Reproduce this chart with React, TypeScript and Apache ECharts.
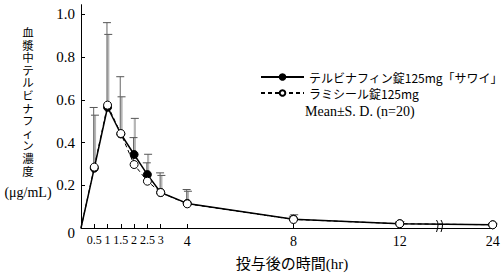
import React, { useEffect, useRef } from "react";
import * as echarts from "echarts";

// Sampling times (hr)
const times = [0, 0.5, 1, 1.5, 2, 2.5, 3, 4, 8, 12, 24];
const tickLabels = ["0.5", "1", "1.5", "2", "2.5", "3", "4", "8", "12", "24"];
// Mean plasma concentration (µg/mL)
const testMean = [0, 0.28, 0.565, 0.44, 0.344, 0.25, 0.166, 0.115, 0.041, 0.02, 0.015];
const refMean = [0, 0.285, 0.575, 0.442, 0.297, 0.219, 0.166, 0.113, 0.04, 0.02, 0.015];
// Standard deviations
const testSD = [0, 0.248, 0.341, 0.174, 0.169, 0.095, 0.08, 0.057, 0.021, 0.01, 0.007];
const refSD = [0, 0.279, 0.386, 0.266, 0.126, 0.086, 0.092, 0.067, 0.015, 0.008, 0.005];
const yTicks = [0.2, 0.4, 0.6, 0.8, 1.0];
const yTitleChars = ["血", "漿", "中", "テ", "ル", "ビ", "ナ", "フ", "ィ", "ン", "濃", "度"];

const testName = "テルビナフィン錠125mg「サワイ」";
const refName = "ラミシール錠125mg";

// broken time axis: beyond 12 hr the scale is compressed
const BREAK_AT = 12;
const BREAK_FACTOR = 3.5 / 12;
const axisPos = (t: number) => (t <= BREAK_AT ? t : BREAK_AT + (t - BREAK_AT) * BREAK_FACTOR);

const SERIF = "'Liberation Serif', 'DejaVu Serif', 'Noto Sans CJK JP', serif";

function lineData(mean: number[]) {
  return times.map((t, i) =>
    i === 0 ? { value: [axisPos(t), mean[i]], symbol: "none" } : { value: [axisPos(t), mean[i]] }
  );
}

function errData(mean: number[], sd: number[]) {
  return times
    .map((t, i) => [axisPos(t), mean[i], mean[i] + sd[i]])
    .filter((d, i) => i > 0);
}

function errSeries(name: string, mean: number[], sd: number[], stem: string, stemW: number, dx: number) {
  return {
    type: "custom",
    name: name + "-sd",
    z: 1,
    silent: true,
    data: errData(mean, sd),
    encode: { x: 0, y: [1, 2] },
    renderItem: (params: any, api: any) => {
      const x = api.value(0);
      const lo = api.coord([x, api.value(1)]);
      const hi = api.coord([x, api.value(2)]);
      const px = lo[0] + dx;
      return {
        type: "group",
        children: [
          {
            type: "line",
            shape: { x1: px, y1: lo[1], x2: px, y2: hi[1] },
            style: { stroke: stem, lineWidth: stemW },
          },
          {
            type: "line",
            shape: { x1: px - 4, y1: hi[1], x2: px + 4, y2: hi[1] },
            style: { stroke: "#555", lineWidth: 1 },
          },
        ],
      };
    },
  };
}

export default function App() {
  const ref = useRef<HTMLDivElement>(null);
  useEffect(() => {
    if (!ref.current) return;
    const chart = echarts.init(ref.current, null, { renderer: "svg" });
    const posTicks = times.slice(1).map(axisPos);
    const labelFor = (v: number) => {
      const idx = posTicks.findIndex((p) => Math.abs(p - v) < 1e-6);
      return idx >= 0 ? tickLabels[idx] : "";
    };
    const titleChars = yTitleChars.map((c, i) => ({
      type: "text",
      x: 28,
      y: 32 + i * 12.6,
      style: {
        text: c,
        font: "11.5px 'Noto Sans CJK JP'",
        fill: "#000",
        align: "center",
        verticalAlign: "middle",
      },
    }));
    chart.setOption({
      animation: false,
      backgroundColor: "#fff",
      grid: { left: 81, right: 11.3, top: 4.7, bottom: 48, outerBoundsMode: "none" },
      xAxis: {
        type: "value",
        min: 0,
        max: axisPos(24),
        axisLine: { lineStyle: { color: "#000", width: 1 } },
        axisTick: { inside: true, length: 4, customValues: posTicks, lineStyle: { color: "#000" } },
        axisLabel: {
          customValues: posTicks,
          margin: 6,
          formatter: (v: number) => {
            const s = labelFor(v);
            return v < 3.5 ? `{s|${s}}` : `{n|${s}}`;
          },
          rich: {
            s: { fontFamily: SERIF, fontSize: 12, color: "#000" },
            n: { fontFamily: SERIF, fontSize: 14, color: "#000" },
          },
        },
        splitLine: { show: false },
      },
      yAxis: {
        type: "value",
        min: 0,
        max: 1.045,
        axisLine: { show: true, lineStyle: { color: "#000", width: 1 } },
        axisTick: { show: true, inside: true, length: 4, customValues: yTicks, lineStyle: { color: "#000" } },
        axisLabel: {
          customValues: yTicks,
          margin: 6,
          fontFamily: SERIF,
          fontSize: 15,
          color: "#000",
          formatter: (v: number) => v.toFixed(1),
        },
        splitLine: { show: false },
      },
      legend: {
        orient: "vertical",
        left: 255,
        top: 65,
        itemWidth: 43,
        itemHeight: 7,
        itemGap: 2,
        textStyle: { fontFamily: "'Noto Sans CJK JP'", fontSize: 12, lineHeight: 14, color: "#000" },
        data: [testName, refName],
      },
      graphic: [
        ...titleChars,
        {
          type: "text",
          x: 28,
          y: 192,
          style: {
            text: "(μg/mL)",
            font: "14px 'Liberation Serif', 'Noto Sans CJK JP'",
            fill: "#000",
            align: "center",
            verticalAlign: "middle",
          },
        },
        {
          type: "text",
          x: 75,
          y: 233,
          style: {
            text: "0",
            font: "15px 'Liberation Serif'",
            fill: "#000",
            align: "right",
            verticalAlign: "middle",
          },
        },
        {
          type: "text",
          x: 292,
          y: 264,
          style: {
            text: "投与後の時間(hr)",
            font: "15px 'Liberation Serif', 'Noto Sans CJK JP'",
            fill: "#000",
            align: "center",
            verticalAlign: "middle",
          },
        },
        {
          type: "text",
          x: 305,
          y: 111,
          style: {
            text: "Mean±S. D. (n=20)",
            font: "14px 'Liberation Serif'",
            fill: "#000",
            verticalAlign: "middle",
          },
        },
        {
          type: "group",
          z: 100,
          children: [
            { type: "rect", shape: { x: 437, y: 219, width: 5, height: 14 }, style: { fill: "#fff" } },
            {
              type: "bezierCurve",
              shape: { x1: 436.5, y1: 220, cpx1: 439.5, cpy1: 224, x2: 436.5, y2: 232 },
              style: { stroke: "#000", lineWidth: 1, fill: null },
            },
            {
              type: "bezierCurve",
              shape: { x1: 441, y1: 220, cpx1: 444, cpy1: 224, x2: 441, y2: 232 },
              style: { stroke: "#000", lineWidth: 1, fill: null },
            },
          ],
        },
      ],
      series: [
        errSeries(testName, testMean, testSD, "#b5b5b5", 2.2, 0.7),
        errSeries(refName, refMean, refSD, "#666", 1, -0.6),
        {
          name: testName,
          type: "line",
          z: 3,
          data: lineData(testMean),
          symbol: "circle",
          symbolSize: 8,
          itemStyle: { color: "#000", borderColor: "#000", borderWidth: 1 },
          lineStyle: { color: "#000", width: 1.5 },
        },
        {
          name: refName,
          type: "line",
          z: 4,
          data: lineData(refMean),
          symbol: "circle",
          symbolSize: 8,
          itemStyle: { color: "#fff", borderColor: "#000", borderWidth: 1 },
          lineStyle: { color: "#000", width: 1, type: [4, 3] },
        },
      ],
    });
    return () => chart.dispose();
  }, []);
  return <div ref={ref} style={{ width: 504, height: 276, position: "absolute", left: 0, top: 0 }} />;
}
